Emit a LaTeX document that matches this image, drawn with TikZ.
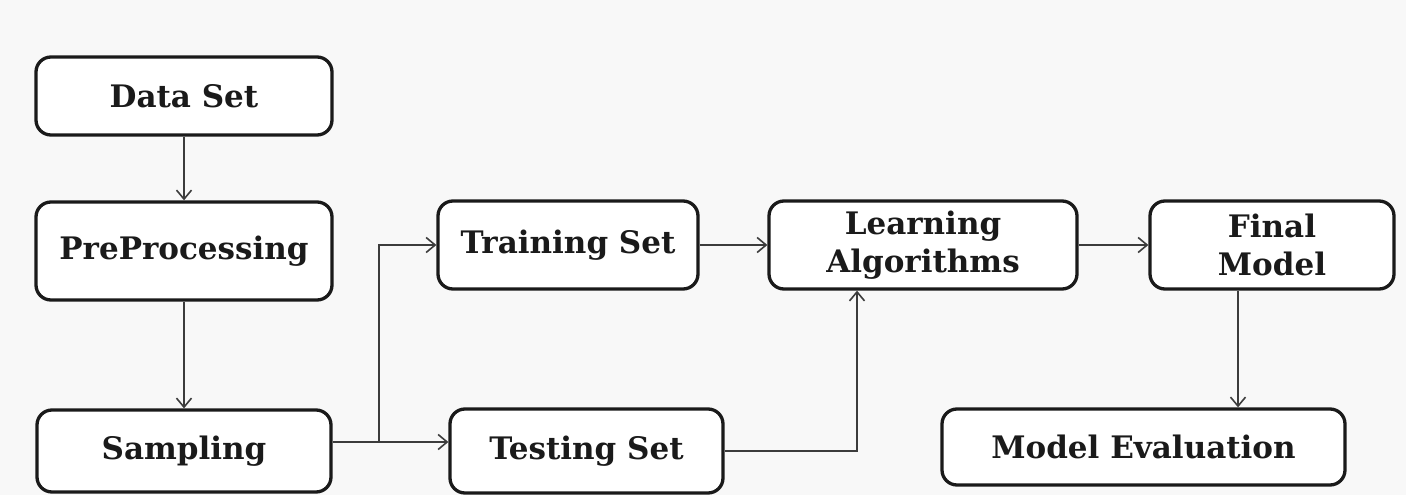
\documentclass[tikz,border=0pt]{standalone}
\usepackage{fontspec}
\setmainfont{DejaVu Serif}
\usetikzlibrary{arrows.meta}
\definecolor{bg}{HTML}{F8F8F8}
\definecolor{ink}{HTML}{1A1A1A}
\begin{document}
\begin{tikzpicture}[x=1pt,y=-1pt,
  box/.style={draw=ink, line width=3.3pt, rounded corners=15pt, fill=white, align=center,
    inner sep=0pt, text=ink, font=\fontsize{31}{38}\selectfont\bfseries},
  arr/.style={draw=ink!85, line width=1.6pt, -{Straight Barb[length=9pt,width=15pt,line width=1.6pt]}}]
\fill[bg] (0,0) rectangle (1406,495);
\useasboundingbox (0,0) rectangle (1406,495);
\node[box, minimum width=296pt, minimum height=78pt] (ds) at (184,96) {Data Set};
\node[box, minimum width=296pt, minimum height=98pt] (pp) at (184,251) {PreProcessing};
\node[box, minimum width=294pt, minimum height=82pt] (sa) at (184,451) {Sampling};
\node[box, minimum width=260pt, minimum height=88pt] (tr) at (568,245) {Training Set};
\node[box, minimum width=273pt, minimum height=84pt] (te) at (586.5,451) {Testing Set};
\node[box, minimum width=308pt, minimum height=88pt] (la) at (923,245) {Learning\\Algorithms};
\node[box, minimum width=244pt, minimum height=88pt] (fm) at (1272,245) {Final\\Model};
\node[box, minimum width=403pt, minimum height=76pt] (me) at (1143.5,447) {Model Evaluation};
\coordinate (br) at (379,442);
\draw[arr] (ds) -- (pp);
\draw[arr] (pp) -- (sa);
\draw[arr] (sa.east |- br) -- (te.west |- br);
\draw[arr] (br) |- (tr.west);
\draw[arr] (tr) -- (la);
\draw[arr] (te.east) -| ([xshift=-66pt]la.south);
\draw[arr] (la) -- (fm);
\draw[arr] ([xshift=-34pt]fm.south) -- ([xshift=-34pt]fm.south |- me.north);
\end{tikzpicture}
\end{document}
